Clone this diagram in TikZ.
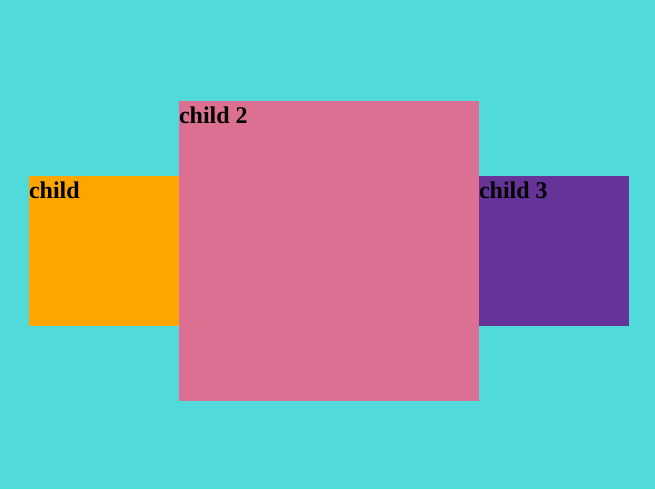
\documentclass[tikz,border=0pt]{standalone}
\usepackage{fontspec}
\setmainfont{Liberation Serif}
\usetikzlibrary{positioning}
\definecolor{PageCyan}{RGB}{80, 218, 218}
\definecolor{BoxOrange}{RGB}{255, 165, 0}
\definecolor{BoxPink}{RGB}{219, 112, 147}
\definecolor{BoxPurple}{RGB}{102, 51, 153}

\begin{document}
\begin{tikzpicture}[x=0.75pt, y=-0.75pt,
    box/.style={fill=#1, inner sep=0pt, outer sep=0pt},
    tag/.style={anchor=base west, inner sep=0pt, outer sep=0pt, yshift=-16.5pt, font=\fontsize{18}{21}\selectfont\bfseries}]
    % Fondo
    \fill[PageCyan] (0,0) rectangle (655,489);
    \useasboundingbox (0,0) rectangle (655,489);

    % Cajas
    \node[box=BoxOrange, minimum width=112.5pt, minimum height=112.5pt, anchor=north west] (child1) at (29,176) {};
    \node[box=BoxPink, minimum width=225pt, minimum height=225pt, right=0pt of child1] (child2) {};
    \node[box=BoxPurple, minimum width=112.5pt, minimum height=112.5pt, right=0pt of child2] (child3) {};

    % Etiquetas
    \node[tag] (tag1) at (child1.north west) {child};
    \node[tag] (tag2) at (child2.north west) {child 2};
    \node[tag] (tag3) at (child3.north west) {child 3};
\end{tikzpicture}
\end{document}
